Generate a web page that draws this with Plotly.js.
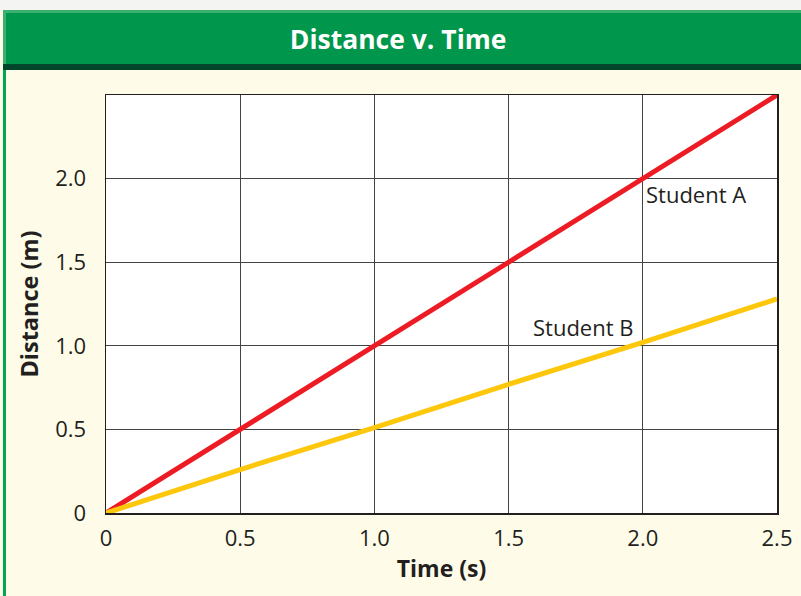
<!DOCTYPE html>
<html><head><meta charset="utf-8">
<script src="https://cdn.plot.ly/plotly-3.0.1.min.js"></script>
<style>html,body{margin:0;padding:0;background:#fefce9;}#chart{width:801px;height:596px;}</style>
</head><body><div id="chart"></div>
<script>
const timeS = [0, 0.5, 1.0, 1.5, 2.0, 2.5];
const studentA = [0, 0.5, 1.0, 1.5, 2.0, 2.5];
const studentB = [0, 0.26, 0.51, 0.77, 1.02, 1.28];
const xTickVals = [0, 0.5, 1.0, 1.5, 2.0, 2.5];
const xTickText = ['0', '0.5', '1.0', '1.5', '2.0', '2.5'];
const yTickVals = [0, 0.5, 1.0, 1.5, 2.0];
const yTickText = ['0', '0.5', '1.0', '1.5', '2.0'];

const W = 801, H = 596, L = 106, R = 24, T = 95, B = 83;
const pw = W - L - R, ph = H - T - B;
const px = X => (X - L) / pw;
const py = Y => (H - B - Y) / ph;
function rect(x0, y0, x1, y1, color) {
  return {type: 'rect', xref: 'paper', yref: 'paper', x0: px(x0), x1: px(x1), y0: py(y1), y1: py(y0),
    fillcolor: color, line: {width: 0}, layer: 'below'};
}
const font = 'Open Sans, Noto Sans, sans-serif';

const traces = [
  {x: timeS, y: studentA, mode: 'lines', line: {color: '#ed1c24', width: 5}, name: 'Student A'},
  {x: timeS, y: studentB, mode: 'lines', line: {color: '#fdc70c', width: 5}, name: 'Student B'}
];

const layout = {
  width: W, height: H,
  margin: {l: L, r: R, t: T, b: B},
  paper_bgcolor: '#fefce9', plot_bgcolor: '#ffffff',
  showlegend: false,
  font: {family: font, color: '#231f20', size: 22},
  title: {text: '<b>Distance v. Time</b>', font: {family: font, size: 26.5, color: '#ffffff'},
    x: 0.497, xanchor: 'center', xref: 'container', y: 1 - 40 / H, yanchor: 'middle', yref: 'container'},
  xaxis: {range: [0, 2.5], tickvals: xTickVals, ticktext: xTickText, showgrid: true, gridcolor: '#444', gridwidth: 1,
    zeroline: false, showline: true, linecolor: '#231f20', linewidth: 1.5, mirror: true,
    ticks: 'outside', ticklen: 5, tickcolor: 'rgba(0,0,0,0)',
    tickfont: {size: 22}, title: {text: '<b>Time (s)</b>', font: {size: 23}, standoff: 10}},
  yaxis: {range: [0, 2.5], tickvals: yTickVals, ticktext: yTickText, showgrid: true, gridcolor: '#444', gridwidth: 1,
    zeroline: false, showline: true, linecolor: '#231f20', linewidth: 1.5, mirror: true,
    ticks: 'outside', ticklen: 14, tickcolor: 'rgba(0,0,0,0)',
    tickfont: {size: 22}, title: {text: '<b>Distance (m)</b>', font: {size: 23.5}, standoff: 10}},
  shapes: [
    rect(0, 0, W, 10, '#f4f4f2'),
    rect(3, 10, W, 64, '#00964b'),
    rect(3, 10, W, 13, '#3cb06f'),
    rect(3, 10, 6, 64, '#3cb06f'),
    rect(3, 64, W, 70, '#00472b'),
    rect(3, 70, 6, H, '#00a651')
  ],
  annotations: [
    {x: 2.005, y: 1.91, xref: 'x', yref: 'y', text: 'Student A', showarrow: false, xanchor: 'left', yanchor: 'middle', font: {size: 22}},
    {x: 1.97, y: 1.11, xref: 'x', yref: 'y', text: 'Student B', showarrow: false, xanchor: 'right', yanchor: 'middle', font: {size: 22}}
  ]
};
Plotly.newPlot('chart', traces, layout, {displayModeBar: false, staticPlot: true});
</script></body></html>
